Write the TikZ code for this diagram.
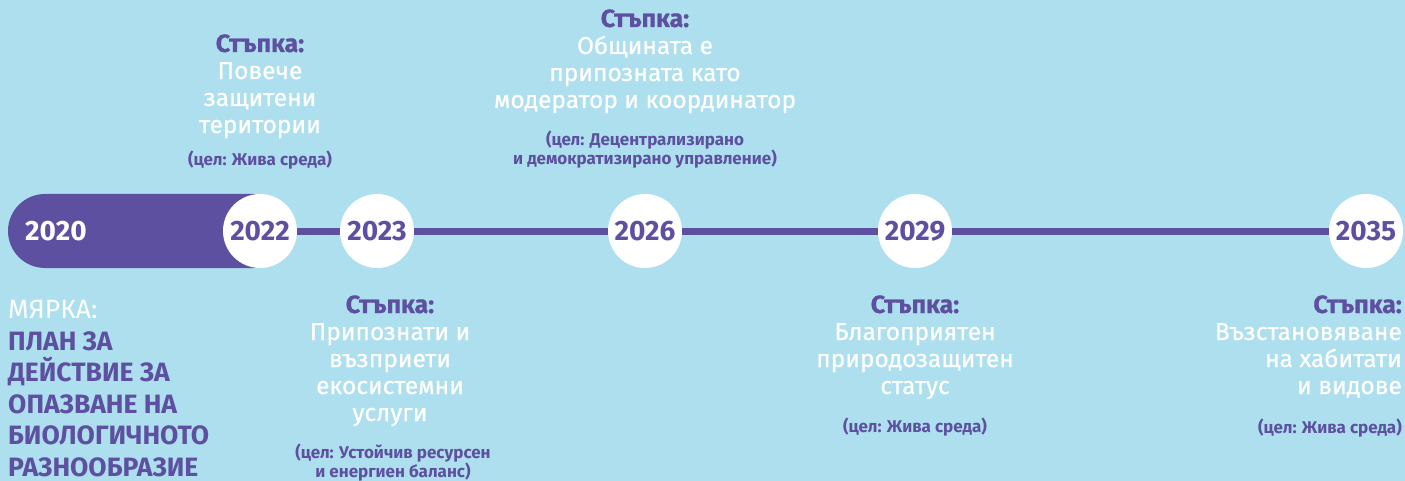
\documentclass[tikz,border=0pt]{standalone}
\usepackage{fontspec}
\setmainfont{Fira Sans}[Language=Bulgarian]
\newfontfamily\sredno{Fira Sans}[FakeBold=0.6]
\usepackage{tikz}
\definecolor{fonSin}{HTML}{ADDFEE}
\definecolor{lilav}{HTML}{5D50A0}
\tikzset{
  godina/.style={circle,fill=white,minimum size=74pt,inner sep=0pt,text=lilav,font=\fontsize{28}{28}\selectfont\bfseries},
  stupka/.style={align=center,text=white,inner sep=0pt,font=\fontsize{24.5}{27}\sredno},
  cel/.style={align=center,text=lilav,inner sep=0pt,font=\fontsize{17}{19}\selectfont\bfseries},
}
\newcommand{\stl}{\textcolor{lilav}{\bfseries\fontsize{25}{27}\selectfont Стъпка:}}

\begin{document}
\begin{tikzpicture}[x=1pt,y=-1pt]
\useasboundingbox (0,0) rectangle (1405,481);
\fill[fonSin] (0,0) rectangle (1405,481);
% lenta 2020--2022
\fill[lilav,rounded corners=37pt] (8,194) rectangle (290,268);
\node (y2020) [anchor=west,inner sep=0pt,text=white,font=\fontsize{28}{28}\selectfont\bfseries] at (25,231) {2020};
\node[godina] (y2022) at (260,231) {2022};
\node[godina] (y2023) at (377,231) {2023};
\node[godina] (y2026) at (645,231) {2026};
\node[godina] (y2029) at (915,231) {2029};
\node[godina] (y2035) at (1366,231) {2035};
\foreach \a/\b in {y2022/y2023,y2023/y2026,y2026/y2029,y2029/y2035}
  \draw[lilav,line width=7pt] (\a) -- (\b);
% gore
\node[stupka,anchor=base] (s2022) at (260,133) {\stl\\Повече\\защитени\\територии};
\node[cel,anchor=base] (c2022) at (260,166) {(цел: Жива среда)};
\node[stupka,anchor=base] (s2026) at (645,108) {\stl\\Общината е\\припозната като\\модератор и координатор};
\node[cel,anchor=base] (c2026) at (645,165) {(цел: Децентрализирано\\и демократизирано управление)};
% dolu
\node[stupka,anchor=base] (s2023) at (390,421) {\stl\\Припознати и\\възприети\\екосистемни\\услуги};
\node[cel,anchor=base] (c2023) at (393,477) {(цел: Устойчив ресурсен\\и енергиен баланс)};
\node[stupka,anchor=base] (s2029) at (915,394) {\stl\\Благоприятен\\природозащитен\\статус};
\node[cel,anchor=base] (c2029) at (915,432) {(цел: Жива среда)};
\node[stupka,anchor=base east,align=right] (s2035) at (1402,394) {\stl\\Възстановяване\\на хабитати\\и видове};
\node[cel,anchor=base east,align=right] (c2035) at (1402,433) {(цел: Жива среда)};
% myarka
\node[anchor=base west,align=left,inner sep=0pt,text=lilav,font=\fontsize{26.5}{31.5}\selectfont\bfseries] (m2020) at (8,476)
  {\textcolor{white}{\mdseries МЯРКА:}\\ПЛАН ЗА\\ДЕЙСТВИЕ ЗА\\ОПАЗВАНЕ НА\\БИОЛОГИЧНОТО\\РАЗНООБРАЗИЕ};
\end{tikzpicture}
\end{document}
